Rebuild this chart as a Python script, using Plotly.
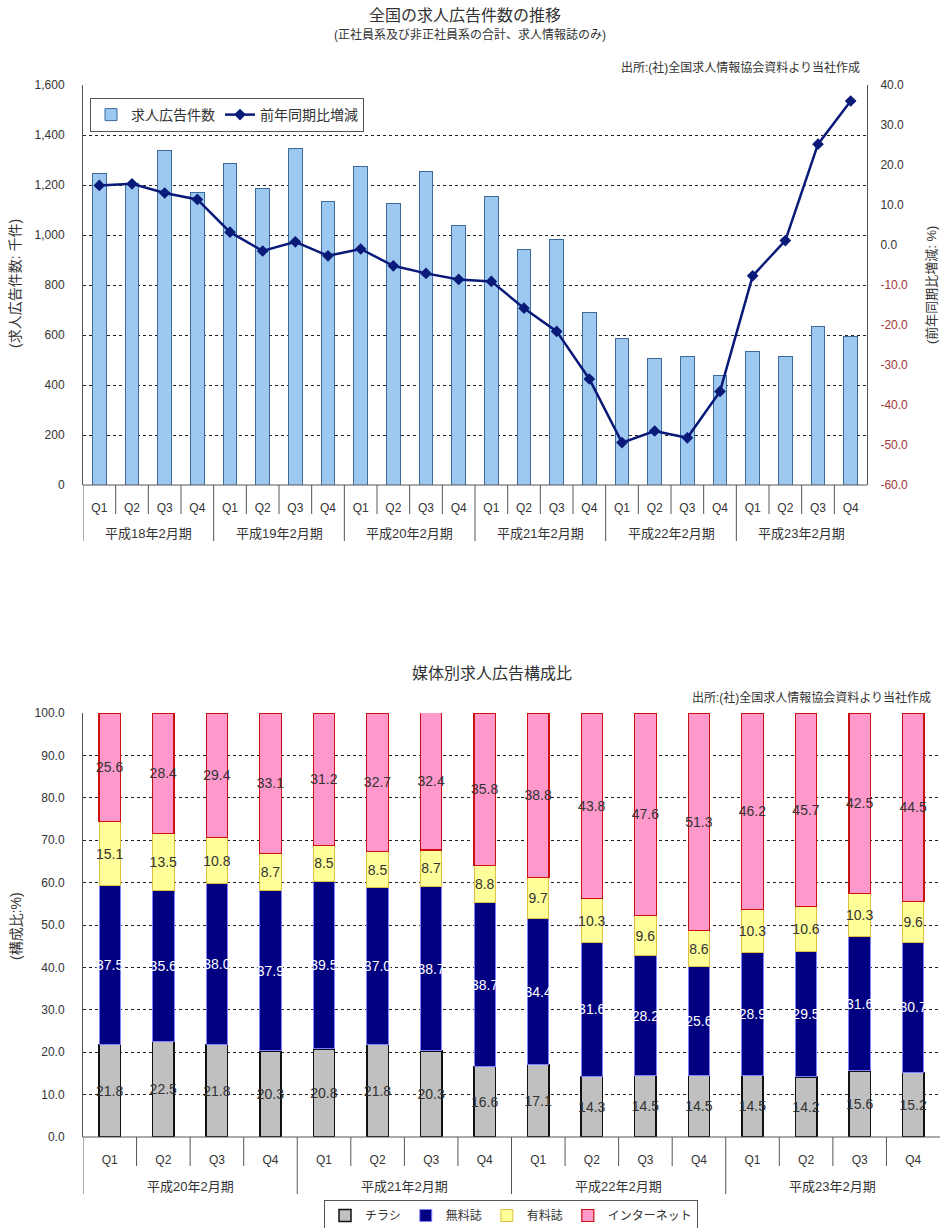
import plotly.graph_objects as go

# ---------------- data: top chart ----------------
top_quarters = ["Q1", "Q2", "Q3", "Q4"] * 6
top_groups = ["平成18年2月期", "平成19年2月期", "平成20年2月期",
              "平成21年2月期", "平成22年2月期", "平成23年2月期"]
ad_counts = [1248, 1205, 1337, 1169, 1287, 1185, 1345, 1136,
             1273, 1127, 1256, 1039, 1153, 944, 983, 689,
             585, 507, 513, 440, 536, 513, 633, 593]
yoy_change = [14.9, 15.3, 13.0, 11.4, 3.2, -1.5, 0.8, -2.7,
              -1.0, -5.2, -7.1, -8.6, -9.1, -15.8, -21.6, -33.5,
              -49.4, -46.5, -48.2, -36.6, -7.7, 1.1, 25.2, 36.0]
left_ticks = [0, 200, 400, 600, 800, 1000, 1200, 1400, 1600]
right_ticks = [-60, -50, -40, -30, -20, -10, 0, 10, 20, 30, 40]

# ---------------- data: bottom chart ----------------
bot_quarters = ["Q1", "Q2", "Q3", "Q4"] * 4
bot_groups = ["平成20年2月期", "平成21年2月期", "平成22年2月期", "平成23年2月期"]
chirashi = [21.8, 22.5, 21.8, 20.3, 20.8, 21.8, 20.3, 16.6,
            17.1, 14.3, 14.5, 14.5, 14.5, 14.2, 15.6, 15.2]
free_mag = [37.5, 35.6, 38.0, 37.9, 39.5, 37.0, 38.7, 38.7,
            34.4, 31.6, 28.2, 25.6, 28.9, 29.5, 31.6, 30.7]
paid_mag = [15.1, 13.5, 10.8, 8.7, 8.5, 8.5, 8.7, 8.8,
            9.7, 10.3, 9.6, 8.6, 10.3, 10.6, 10.3, 9.6]
internet = [25.6, 28.4, 29.4, 33.1, 31.2, 32.7, 32.4, 35.8,
            38.8, 43.8, 47.6, 51.3, 46.2, 45.7, 42.5, 44.5]
bot_ticks = [0, 10, 20, 30, 40, 50, 60, 70, 80, 90, 100]

W, H = 940, 1228
def px(x): return x / W
def py(y): return 1 - y / H

FONT = "Liberation Sans, Noto Sans CJK JP, sans-serif"
TXT = "#333333"

# layout geometry (pixels)
T_L, T_R, T_TOP, T_BOT = 83, 867, 85, 485
B_L, B_R, B_TOP, B_BOT = 83, 940, 713, 1137

fig = go.Figure()

xt = list(range(len(ad_counts)))
fig.add_trace(go.Bar(
    x=xt, y=ad_counts, name="求人広告件数", width=0.41,
    marker=dict(color="#9dc8f0", line=dict(color="#3d6a9a", width=1)),
    xaxis="x", yaxis="y", legend="legend"))
fig.add_trace(go.Scatter(
    x=xt, y=yoy_change, name="前年同期比増減", mode="lines+markers",
    line=dict(color="#0a1a78", width=2.5),
    marker=dict(symbol="diamond", size=9, color="#0a1a78"),
    xaxis="x", yaxis="y2", legend="legend"))

xb = list(range(len(chirashi)))
series = [
    ("チラシ", chirashi, "#c0c0c0", "#111111", 1.5, TXT),
    ("無料誌", free_mag, "#000080", "#8080ff", 1, "white"),
    ("有料誌", paid_mag, "#ffff99", "#e0c040", 1, TXT),
    ("インターネット", internet, "#ff99cc", "#cc1010", 1.2, TXT),
]
for name, vals, col, lcol, lw, tcol in series:
    fig.add_trace(go.Bar(
        x=xb, y=vals, name=name, width=0.4,
        marker=dict(color=col, line=dict(color=lcol, width=lw)),
        text=[f"{v:.1f}" for v in vals], textposition="inside",
        insidetextanchor="middle", textangle=0,
        textfont=dict(color=tcol, size=14, family=FONT),
        xaxis="x3", yaxis="y3", legend="legend2"))

grid = dict(showgrid=True, gridcolor="#222222", griddash="dot", gridwidth=1)

def rtick(v):
    s = f"{v:.1f}"
    if v < 0:
        return f"<span style='color:#a03838'>{s}</span>"
    return s

fig.update_layout(
    width=W, height=H, margin=dict(l=0, r=0, t=0, b=0, autoexpand=False),
    paper_bgcolor="white", plot_bgcolor="white",
    font=dict(family=FONT, size=12, color=TXT),
    barmode="stack", showlegend=True,
    uniformtext=dict(minsize=14, mode="show"),
    xaxis=dict(domain=[px(T_L), px(T_R)], range=[-0.5, 23.5],
               tickmode="array", tickvals=xt, ticktext=top_quarters,
               ticks="outside", ticklen=12, tickcolor="rgba(0,0,0,0)",
               showline=False, showgrid=False, zeroline=False,
               anchor="y", tickfont=dict(size=12)),
    yaxis=dict(domain=[py(T_BOT), py(T_TOP)], range=[0, 1600],
               tickmode="array", tickvals=left_ticks, tickformat=",d",
               showline=True, linecolor="#555555", linewidth=1,
               zeroline=False, ticks="outside", ticklen=15,
               tickcolor="rgba(0,0,0,0)", tickfont=dict(size=12),
               anchor="x", **grid),
    yaxis2=dict(overlaying="y", side="right", range=[-60, 40],
                tickmode="array", tickvals=right_ticks,
                ticktext=[rtick(v) for v in right_ticks],
                showgrid=False, zeroline=False, showline=True,
                linecolor="#555555", linewidth=1, anchor="x",
                ticks="outside", ticklen=10, tickcolor="rgba(0,0,0,0)",
                tickfont=dict(size=12)),
    xaxis3=dict(domain=[px(B_L), px(B_R)], range=[-0.5, 15.5],
                tickmode="array", tickvals=xb, ticktext=bot_quarters,
                ticks="outside", ticklen=12, tickcolor="rgba(0,0,0,0)",
                showline=False, showgrid=False, zeroline=False,
                anchor="y3", tickfont=dict(size=12)),
    yaxis3=dict(domain=[py(B_BOT), py(B_TOP)], range=[0, 100],
                tickmode="array", tickvals=bot_ticks, tickformat=".1f",
                showline=True, linecolor="#555555", linewidth=1,
                zeroline=False, ticks="outside", ticklen=15,
                tickcolor="rgba(0,0,0,0)", tickfont=dict(size=12),
                anchor="x3", **grid),
    legend=dict(orientation="h", x=px(90), y=py(98), xanchor="left",
                yanchor="top", bgcolor="white", bordercolor="#555555",
                borderwidth=1, font=dict(size=14), traceorder="normal",
                itemwidth=30, tracegroupgap=0),
    legend2=dict(orientation="h", x=px(511), y=py(1200), xanchor="center",
                 yanchor="top", bgcolor="white", bordercolor="#555555",
                 borderwidth=1, font=dict(size=12), traceorder="normal",
                 itemwidth=30),
)

shapes = []
# top chart: x axis line and dividers
shapes.append(dict(type="line", xref="x", yref="paper", x0=-0.5, x1=23.5,
                   y0=py(T_BOT), y1=py(T_BOT), line=dict(color="#555555", width=1)))
for i in range(len(ad_counts)):
    b = i - 0.5
    long_div = (i % 4 == 0)
    shapes.append(dict(type="line", xref="x", yref="paper", x0=b, x1=b,
                       y0=py(T_BOT), y1=py(541 if long_div else 514),
                       line=dict(color="#555555", width=1)))
# bottom chart
shapes.append(dict(type="line", xref="x3", yref="paper", x0=-0.5, x1=15.5,
                   y0=py(B_BOT), y1=py(B_BOT), line=dict(color="#555555", width=1)))
for i in range(len(chirashi)):
    b = i - 0.5
    long_div = (i % 4 == 0)
    shapes.append(dict(type="line", xref="x3", yref="paper", x0=b, x1=b,
                       y0=py(B_BOT), y1=py(1194 if long_div else 1166),
                       line=dict(color="#555555", width=1)))

annotations = []
for g, name in enumerate(top_groups):
    annotations.append(dict(xref="x", yref="paper", x=g * 4 + 1.5, y=py(533),
                            text=name, showarrow=False, font=dict(size=13)))
for g, name in enumerate(bot_groups):
    annotations.append(dict(xref="x3", yref="paper", x=g * 4 + 1.5, y=py(1186),
                            yanchor="middle", text=name, showarrow=False,
                            font=dict(size=13)))

def ann(x, y, text, size, xanchor="center", angle=0):
    annotations.append(dict(xref="paper", yref="paper", x=px(x), y=py(y),
                            text=text, showarrow=False, xanchor=xanchor,
                            yanchor="middle", textangle=angle,
                            font=dict(size=size)))

ann(465, 15, "全国の求人広告件数の推移", 16)
ann(470, 34, "(正社員系及び非正社員系の合計、求人情報誌のみ)", 12)
ann(862, 67, "出所:(社)全国求人情報協会資料より当社作成", 12, xanchor="right")
ann(15, 284, "(求人広告件数: 千件)", 14, angle=-90)
ann(931, 285, "(前年同期比増減: %)", 13, angle=-90)
ann(492, 673, "媒体別求人広告構成比", 16)
ann(933, 697, "出所:(社)全国求人情報協会資料より当社作成", 12, xanchor="right")
ann(16, 926, "(構成比:%)", 14, angle=-90)

fig.update_layout(shapes=shapes, annotations=annotations)
fig.write_html("out.html")
